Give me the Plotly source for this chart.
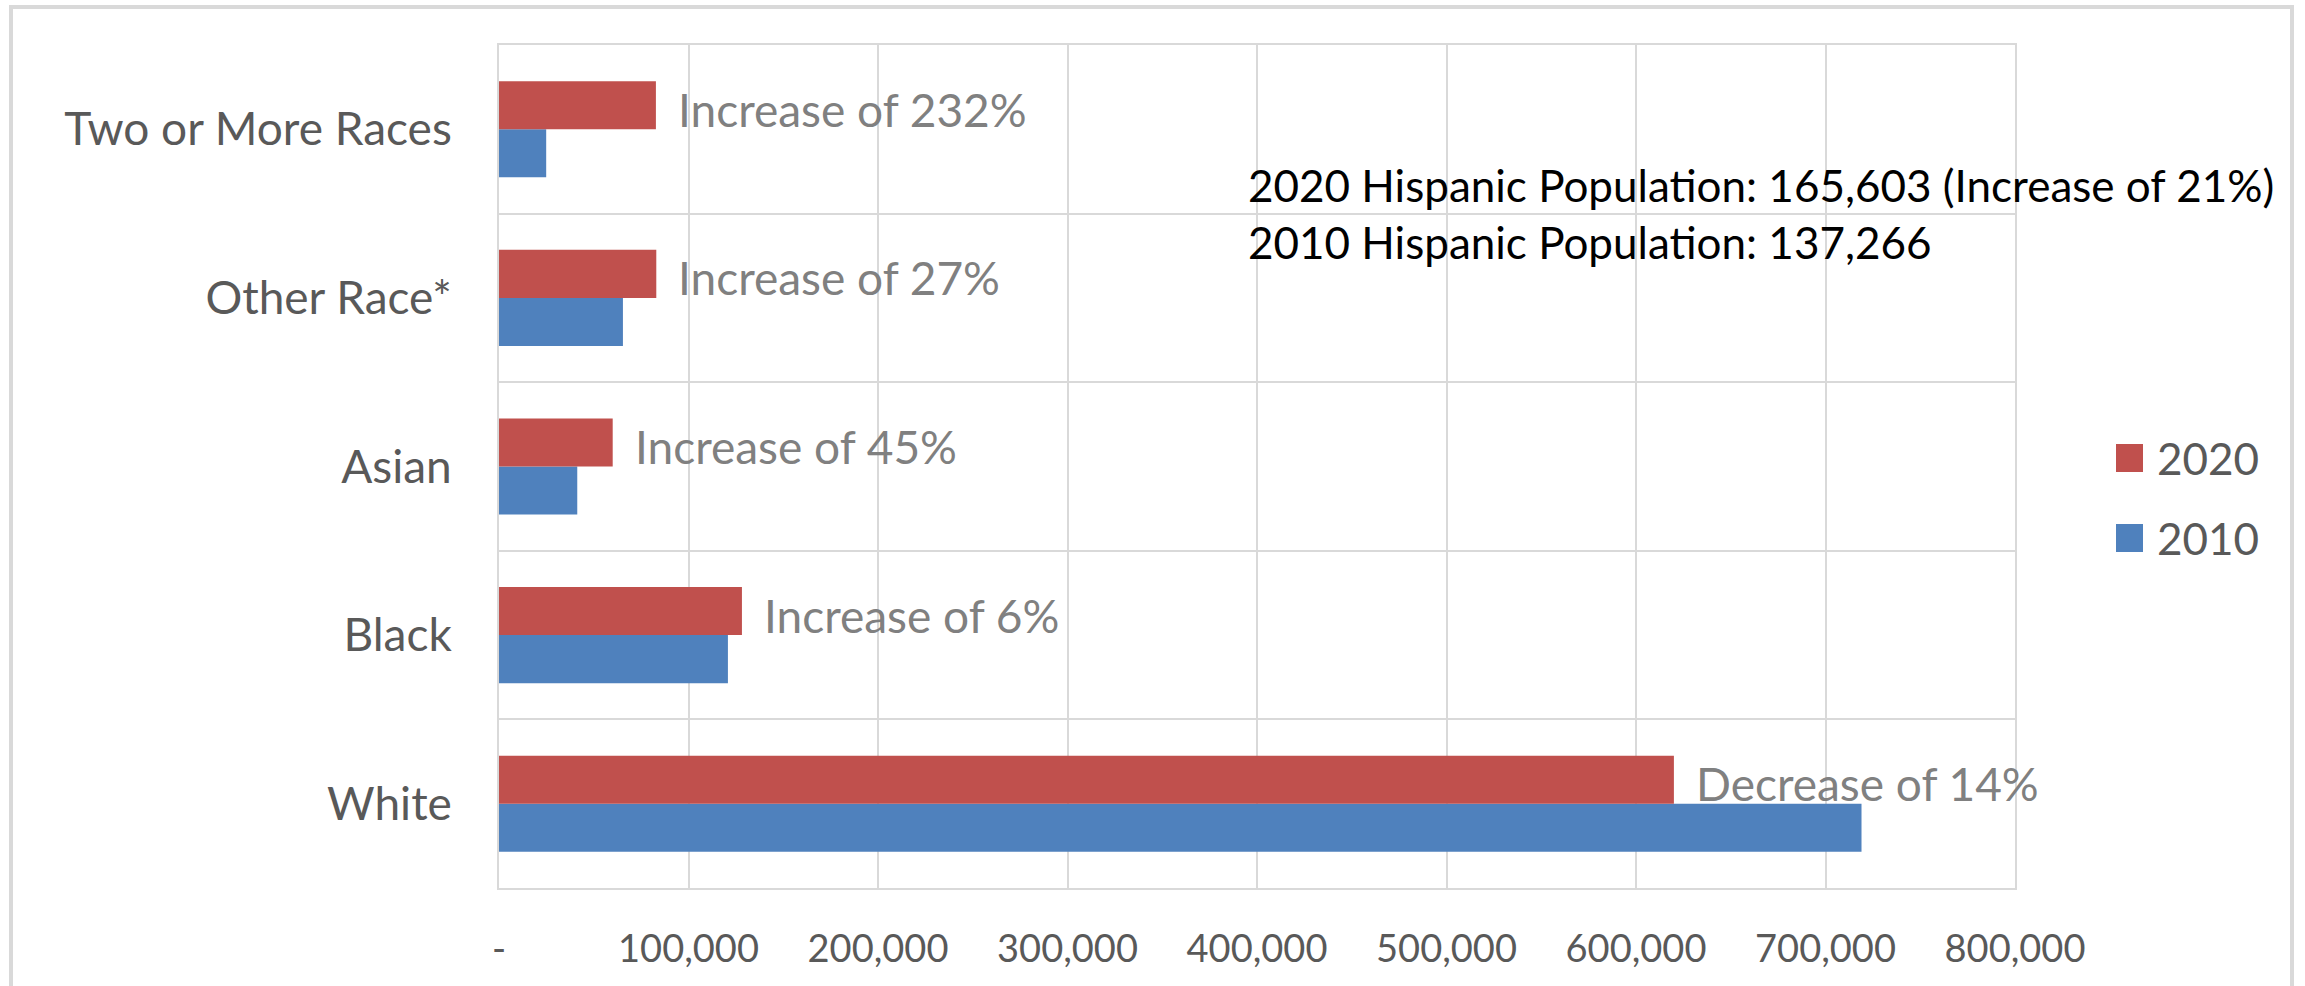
import plotly.graph_objects as go

# ---- data ----
categories = ["White", "Black", "Asian", "Other Race*", "Two or More Races"]
pop_2010 = [719000, 120800, 41300, 65400, 24900]
pop_2020 = [620000, 128200, 60000, 83000, 82800]
change_labels = ["Decrease of 14%", "Increase of 6%", "Increase of 45%",
                 "Increase of 27%", "Increase of 232%"]
series_names = ["2020", "2010"]
x_tickvals = [0, 100000, 200000, 300000, 400000, 500000, 600000, 700000, 800000]
x_ticktext = ["-", "100,000", "200,000", "300,000", "400,000", "500,000",
              "600,000", "700,000", "800,000"]
hispanic_notes = ["2020 Hispanic Population: 165,603 (Increase of 21%)",
                  "2010 Hispanic Population: 137,266"]

# ---- style ----
RED = "#C0504D"
BLUE = "#4F81BD"
GRID = "#D9D9D9"
FONT = "Lato"

W, H = 2305, 986
PL, PR, PT, PB = 499, 2015, 45, 888  # plot area in pixels


def px_x(px):
    return (px - PL) / (PR - PL)


def px_y(py):
    return (PB - py) / (PB - PT)


fig = go.Figure()
fig.add_trace(go.Bar(y=categories, x=pop_2010, name="2010", orientation="h",
                     marker=dict(color=BLUE, line=dict(width=0))))
fig.add_trace(go.Bar(y=categories, x=pop_2020, name="2020", orientation="h",
                     marker=dict(color=RED, line=dict(width=0))))

annotations = []
for cat, v, lab in zip(categories, pop_2020, change_labels):
    annotations.append(dict(x=v, y=cat, xref="x", yref="y", text=lab,
                            showarrow=False, xanchor="left", yanchor="middle",
                            xshift=20, yshift=20,
                            font=dict(family=FONT, size=46, color="#808080")))

for note, cy in zip(hispanic_notes, [185, 242]):
    annotations.append(dict(x=px_x(1246), y=px_y(cy), xref="paper", yref="paper",
                            text=note, showarrow=False,
                            xanchor="left", yanchor="middle",
                            font=dict(family=FONT, size=44, color="#000000")))

# outer chart border
shapes = [dict(type="rect", xref="paper", yref="paper",
               x0=px_x(11), x1=px_x(2292), y0=px_y(1010), y1=px_y(7),
               line=dict(color=GRID, width=4), fillcolor="rgba(0,0,0,0)",
               layer="below")]
# custom legend (large square swatches)
legend_colors = [RED, BLUE]
legend_centers = [458, 538]
for name, col, cy in zip(series_names, legend_colors, legend_centers):
    shapes.append(dict(type="rect", xref="paper", yref="paper",
                       x0=px_x(2116), x1=px_x(2143),
                       y0=px_y(cy + 14), y1=px_y(cy - 14),
                       fillcolor=col, line=dict(width=0)))
    annotations.append(dict(x=px_x(2155), y=px_y(cy), xref="paper", yref="paper",
                            text=name, showarrow=False, xanchor="left",
                            yanchor="middle",
                            font=dict(family=FONT, size=44, color="#595959")))

fig.update_layout(
    width=W, height=H,
    margin=dict(l=PL, r=W - PR, t=PT, b=H - PB, pad=0, autoexpand=False),
    paper_bgcolor="white", plot_bgcolor="white",
    barmode="group", bargap=0.43, bargroupgap=0,
    showlegend=False,
    annotations=annotations, shapes=shapes,
    font=dict(family=FONT, color="#595959"),
)
fig.update_xaxes(range=[0, 800000], tickvals=x_tickvals, ticktext=x_ticktext,
                 automargin=False,
                 showgrid=True, gridcolor=GRID, gridwidth=1.5,
                 showline=True, linecolor=GRID, linewidth=2, mirror=True,
                 zeroline=False, ticks="", ticklabelstandoff=26,
                 tickfont=dict(family=FONT, size=38, color="#595959"))
fig.update_yaxes(type="category", categoryorder="array", categoryarray=categories,
                 automargin=False,
                 tickson="boundaries", showgrid=True, gridcolor=GRID, gridwidth=2,
                 showline=True, linecolor=GRID, linewidth=2, mirror=True,
                 ticks="", ticklabelstandoff=36,
                 tickfont=dict(family=FONT, size=46, color="#595959"))

fig.write_html("out.html",
               config={"displayModeBar": False},
               post_script="document.body.style.margin='0';"
                           "document.body.style.overflow='hidden';")
